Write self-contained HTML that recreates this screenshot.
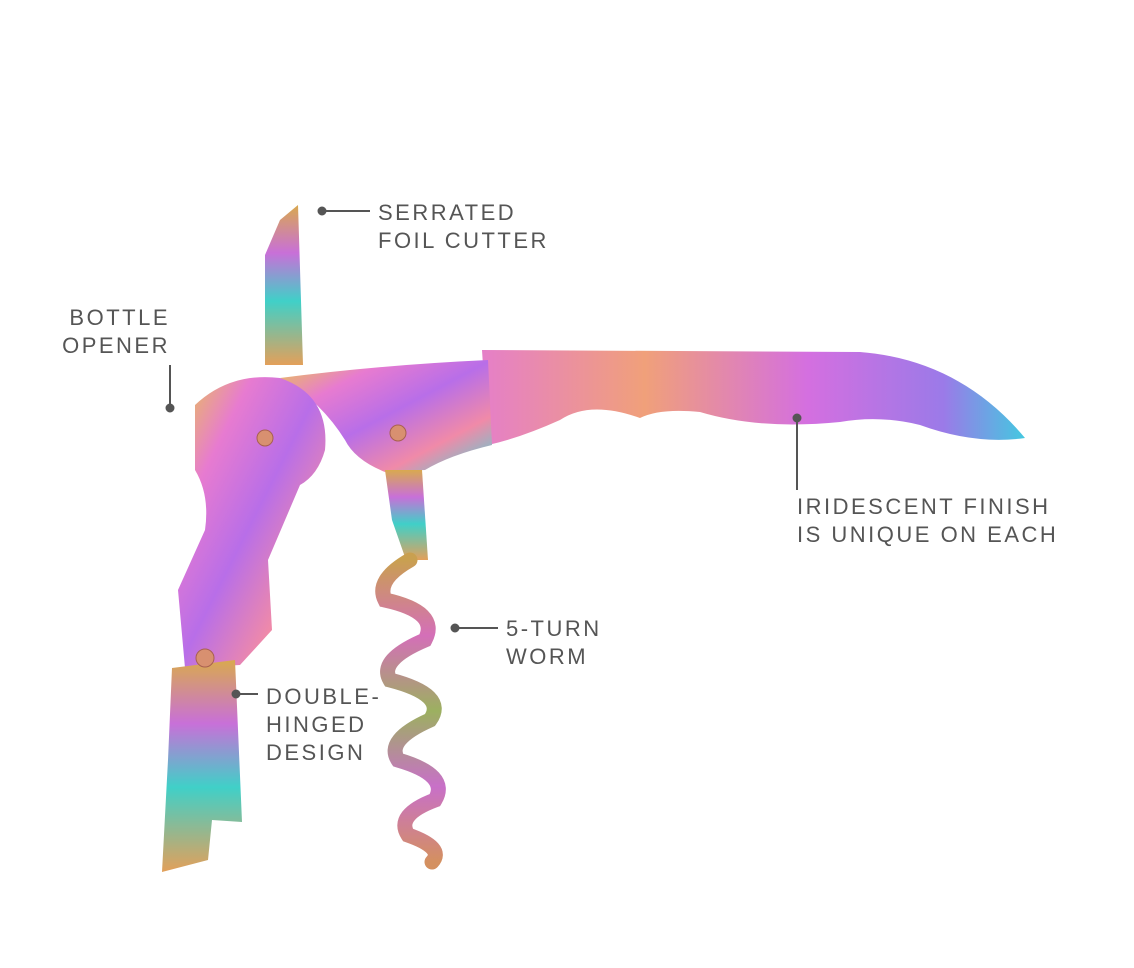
<!DOCTYPE html>
<html><head><meta charset="utf-8"><style>
html,body{margin:0;padding:0;background:#fff;}
body{width:1134px;height:968px;position:relative;overflow:hidden;font-family:"Liberation Sans",sans-serif;}
.t{position:absolute;color:#555;font-size:22px;line-height:28px;letter-spacing:2.5px;white-space:nowrap;}
</style></head><body>
<svg width="1134" height="968" style="position:absolute;left:0;top:0">
<defs>
<linearGradient id="g1" x1="0" y1="0" x2="1" y2="1">
<stop offset="0" stop-color="#e9c94a"/><stop offset="0.25" stop-color="#e77bd0"/><stop offset="0.5" stop-color="#b86ee8"/><stop offset="0.75" stop-color="#f08aa8"/><stop offset="1" stop-color="#4fd6d8"/></linearGradient>
<linearGradient id="g2" x1="0" y1="0" x2="1" y2="0">
<stop offset="0" stop-color="#e57fc8"/><stop offset="0.3" stop-color="#f0a07a"/><stop offset="0.6" stop-color="#d46fe0"/><stop offset="0.85" stop-color="#9b7ae8"/><stop offset="1" stop-color="#44c8e0"/></linearGradient>
<linearGradient id="g3" x1="0" y1="0" x2="0" y2="1">
<stop offset="0" stop-color="#d9a94f"/><stop offset="0.3" stop-color="#c870d8"/><stop offset="0.6" stop-color="#40d0c8"/><stop offset="1" stop-color="#e3a05a"/></linearGradient>
<linearGradient id="g4" x1="0" y1="0" x2="0" y2="1">
<stop offset="0" stop-color="#c9a050"/><stop offset="0.25" stop-color="#d46fb8"/><stop offset="0.5" stop-color="#9cb060"/><stop offset="0.75" stop-color="#c870c8"/><stop offset="1" stop-color="#d49060"/></linearGradient>
</defs>
<!-- blade -->
<polygon points="265,365 265,255 280,220 298,205 303,365" fill="url(#g3)"/>
<!-- long handle -->
<path d="M482,350 L860,352 Q960,360 1025,438 Q975,445 920,425 Q880,415 840,422 Q760,430 700,412 Q660,408 640,418 Q590,400 560,420 Q520,438 488,445 Z" fill="url(#g2)"/>
<!-- middle section -->
<path d="M280,378 Q380,365 488,360 L492,445 Q450,455 425,470 L385,472 Q355,460 345,440 Q320,400 280,378 Z" fill="url(#g1)"/>
<!-- worm arm -->
<polygon points="385,470 422,470 428,560 406,560 392,520" fill="url(#g3)"/>
<!-- head + lever -->
<path d="M195,405 Q230,372 280,378 Q330,395 325,450 Q318,475 300,485 L268,560 L272,630 L240,665 L185,668 L178,590 L205,530 Q210,495 195,470 Z" fill="url(#g1)"/>
<!-- lower lever -->
<polygon points="172,668 235,660 242,822 212,820 208,860 162,872 168,760" fill="url(#g3)"/>
<!-- worm -->
<path d="M410,560 Q375,580 385,600 Q440,612 425,640 Q378,660 390,680 Q448,695 430,720 Q385,740 398,760 Q450,775 435,800 Q395,815 408,835 Q445,848 432,862" fill="none" stroke="url(#g4)" stroke-width="15" stroke-linecap="round"/>
<!-- pins -->
<circle cx="265" cy="438" r="8" fill="#d89070" stroke="#a86050"/>
<circle cx="398" cy="433" r="8" fill="#d89070" stroke="#a86050"/>
<circle cx="205" cy="658" r="9" fill="#d89070" stroke="#a86050"/>
<!-- callouts -->
<g stroke="#555" stroke-width="2" fill="#555">
<circle cx="322" cy="211" r="3.5"/><line x1="322" y1="211" x2="370" y2="211"/>
<circle cx="170" cy="408" r="3.5"/><line x1="170" y1="365" x2="170" y2="408"/>
<circle cx="797" cy="418" r="3.5"/><line x1="797" y1="418" x2="797" y2="490"/>
<circle cx="455" cy="628" r="3.5"/><line x1="455" y1="628" x2="498" y2="628"/>
<circle cx="236" cy="694" r="3.5"/><line x1="236" y1="694" x2="258" y2="694"/>
</g>
</svg>
<div class="t" style="left:378px;top:199px">SERRATED<br>FOIL CUTTER</div>
<div class="t" style="left:30px;top:304px;text-align:right;width:140px">BOTTLE<br>OPENER</div>
<div class="t" style="left:797px;top:493px">IRIDESCENT FINISH<br>IS UNIQUE ON EACH</div>
<div class="t" style="left:506px;top:615px">5-TURN<br>WORM</div>
<div class="t" style="left:266px;top:683px">DOUBLE-<br>HINGED<br>DESIGN</div>
</body></html>
